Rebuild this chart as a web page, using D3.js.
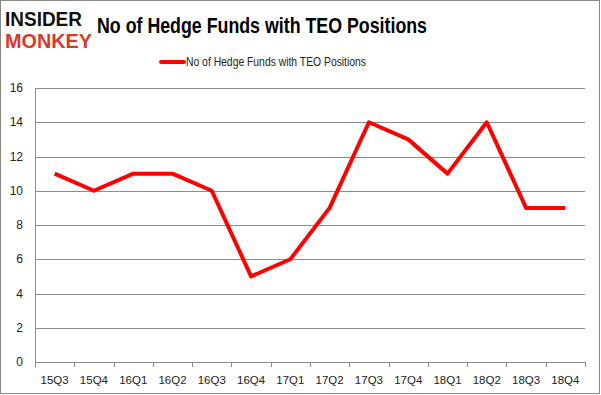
<!DOCTYPE html>
<html>
<head>
<meta charset="utf-8">
<script src="https://cdn.jsdelivr.net/npm/d3@7"></script>
<style>
  body { margin: 0; background: #fff; }
  svg text { font-family: "Liberation Sans", Arial, sans-serif; }
</style>
</head>
<body>
<div id="chart"></div>
<script>
// data
const quarters = ["15Q3", "15Q4", "16Q1", "16Q2", "16Q3", "16Q4", "17Q1", "17Q2",
                  "17Q3", "17Q4", "18Q1", "18Q2", "18Q3", "18Q4"];
const funds = [11, 10, 11, 11, 10, 5, 6, 9, 14, 13, 11, 14, 9, 9];
const yTicks = [0, 2, 4, 6, 8, 10, 12, 14, 16];
const seriesName = "No of Hedge Funds with TEO Positions";

const width = 601, height = 395;
const margin = {top: 88, right: 16, bottom: 33, left: 35};

let svg = d3.select("#chart").append("svg")
    .attr("width", width)
    .attr("height", height);

// outer frame
svg.append("rect")
    .attr("x", 0.5).attr("y", 0.5)
    .attr("width", width - 2).attr("height", height - 2)
    .attr("fill", "#fff")
    .attr("stroke", "#888");

let g = svg.append("g")
    .attr("transform", `translate(${margin.left}, ${margin.top})`);

let innerW = width - margin.left - margin.right;
let innerH = height - margin.top - margin.bottom;

let x = d3.scaleBand().domain(quarters).range([0, innerW]);
let y = d3.scaleLinear().domain([0, 16]).range([innerH, 0]);

// gridlines
g.selectAll("line.grid").data(yTicks).enter()
    .append("line")
    .attr("class", "grid")
    .attr("x1", 0).attr("x2", innerW)
    .attr("y1", d => Math.round(y(d)) + 0.5)
    .attr("y2", d => Math.round(y(d)) + 0.5)
    .attr("stroke", "#8c8c8c");

// y axis
g.append("line")
    .attr("x1", 0.5).attr("x2", 0.5)
    .attr("y1", 0).attr("y2", innerH)
    .attr("stroke", "#8c8c8c");

g.selectAll("text.ylab").data(yTicks).enter()
    .append("text")
    .attr("x", -12)
    .attr("y", d => y(d) + 4)
    .style("text-anchor", "end")
    .style("font-size", "12px")
    .attr("fill", "#222")
    .text(d => d);

// x axis ticks at band boundaries
let bounds = quarters.map(q => x(q)).concat([innerW]);
g.selectAll("line.xtick").data(bounds).enter()
    .append("line")
    .attr("x1", d => Math.round(d) + 0.5).attr("x2", d => Math.round(d) + 0.5)
    .attr("y1", innerH).attr("y2", innerH + 5)
    .attr("stroke", "#8c8c8c");

g.selectAll("text.xlab").data(quarters).enter()
    .append("text")
    .attr("x", d => x(d) + x.bandwidth() / 2)
    .attr("y", innerH + 22)
    .style("text-anchor", "middle")
    .style("font-size", "11.5px")
    .attr("fill", "#222")
    .text(d => d);

// series line
let line = d3.line()
    .x((d, i) => x(quarters[i]) + x.bandwidth() / 2)
    .y(d => y(d));

g.append("path")
    .datum(funds)
    .attr("d", line)
    .attr("fill", "none")
    .attr("stroke", "#ff0000")
    .attr("stroke-width", 4)
    .attr("stroke-linejoin", "round");

// title
svg.append("text")
    .attr("x", 97).attr("y", 33)
    .style("font-size", "22px")
    .style("font-weight", "bold")
    .attr("textLength", 330)
    .attr("lengthAdjust", "spacingAndGlyphs")
    .text("No of Hedge Funds with TEO Positions");

// legend
svg.append("line")
    .attr("x1", 161).attr("x2", 184)
    .attr("y1", 62).attr("y2", 62)
    .attr("stroke", "#ff0000")
    .attr("stroke-width", 4)
    .attr("stroke-linecap", "round");

svg.append("text")
    .attr("x", 186).attr("y", 66)
    .style("font-size", "12px")
    .attr("fill", "#222")
    .attr("textLength", 180)
    .attr("lengthAdjust", "spacingAndGlyphs")
    .text(seriesName);

// logo
svg.append("text")
    .attr("x", 5).attr("y", 26)
    .style("font-size", "21px")
    .style("font-weight", "900")
    .attr("textLength", 77)
    .attr("lengthAdjust", "spacingAndGlyphs")
    .attr("fill", "#111")
    .text("INSIDER");

svg.append("text")
    .attr("x", 5).attr("y", 48)
    .style("font-size", "21px")
    .style("font-weight", "900")
    .attr("textLength", 87)
    .attr("lengthAdjust", "spacingAndGlyphs")
    .attr("fill", "#d63a2b")
    .text("MONKEY");
</script>
</body>
</html>
